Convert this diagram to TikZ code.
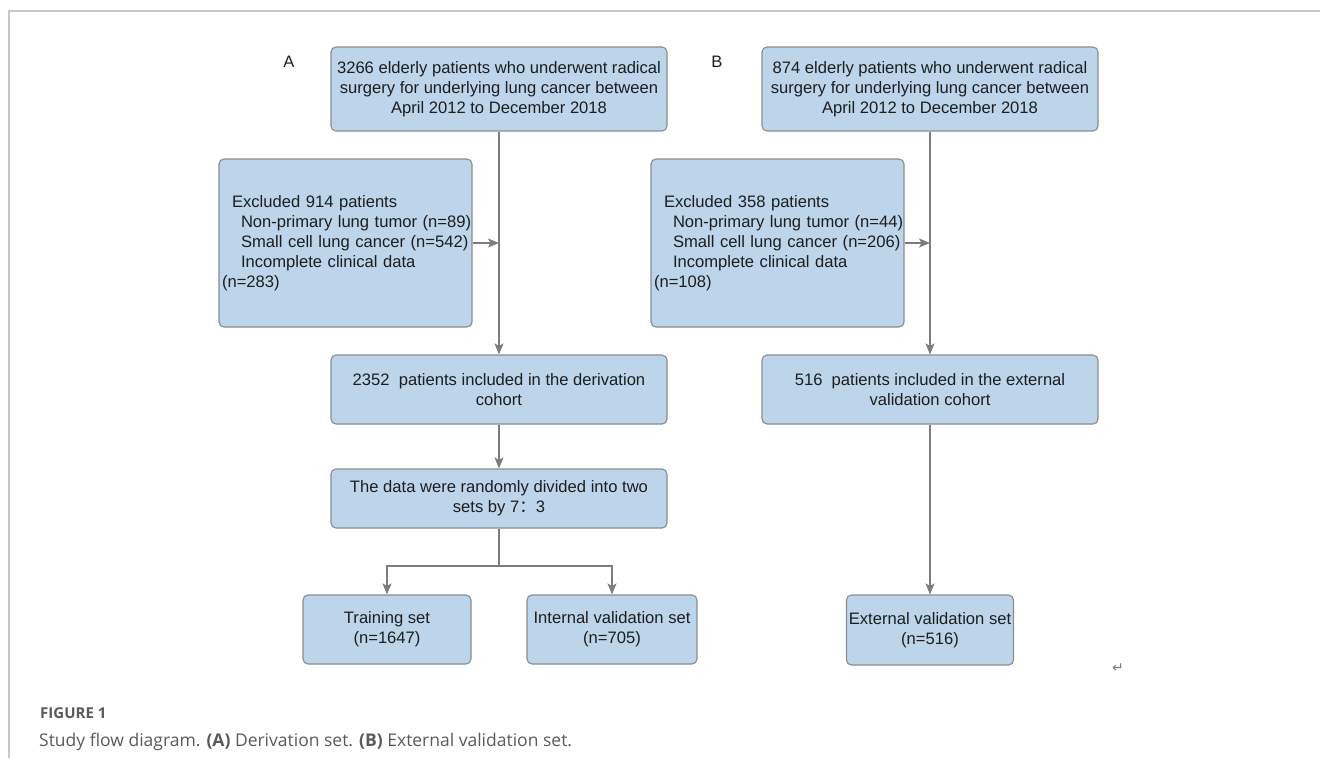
\documentclass[tikz,border=0pt]{standalone}
\usepackage{fontspec}
\setmainfont{Liberation Sans}
\newfontfamily\capfont{Open Sans}
\newfontfamily\cjk{Noto Sans CJK SC}
\newfontfamily\symfont{DejaVu Sans}
\usetikzlibrary{arrows.meta}
\definecolor{boxfill}{RGB}{188,213,234}
\definecolor{boxline}{RGB}{140,140,140}
\definecolor{conn}{RGB}{125,125,125}
\definecolor{txt}{RGB}{30,30,30}
\definecolor{frame}{RGB}{200,200,200}
\definecolor{capgray}{RGB}{90,90,90}
\begin{document}
\begin{tikzpicture}[x=1pt,y=-1pt,
  box/.style={draw=boxline, fill=boxfill, rounded corners=5pt, line width=1.1pt,
    font=\fontsize{16.6}{20}\selectfont, text=txt, align=center, inner sep=0pt},
  exbox/.style={box, align=left, text width=247pt, inner xsep=3pt,
    minimum width=253pt, minimum height=168pt},
  arr/.style={draw=conn, line width=1.4pt, -{Stealth[length=11pt,width=9pt,inset=2.5pt]}},
  ln/.style={draw=conn, line width=1.4pt},
  lab/.style={font=\fontsize{16.6}{20}\selectfont, text=txt, inner sep=0pt}]
\useasboundingbox (0,0) rectangle (1320,758);
% frame
\draw[frame, line width=1.2pt] (1320,11) -- (9,11) -- (9,758);
% labels
\node[lab] (labA) at (289,62) {A};
\node[lab] (labB) at (717,62) {B};
% column A
\node[box, minimum width=336pt, minimum height=84pt] (topA) at (499,89)
  {3266 elderly patients who underwent radical\\surgery for underlying lung cancer between\\April 2012 to December 2018};
\node[exbox] (exA) at (345.5,243)
  {\hspace*{10pt}\mbox{Excluded 914 patients}\\\hspace*{19pt}\mbox{Non-primary lung tumor (n=89)}\\\hspace*{19pt}\mbox{Small cell lung cancer (n=542)}\\\hspace*{19pt}\mbox{Incomplete clinical data}\\(n=283)};
\node[box, minimum width=336pt, minimum height=69pt] (derA) at (499,389.5)
  {2352\ \ patients included in the derivation\\cohort};
\node[box, minimum width=336pt, minimum height=59pt] (rand) at (499,498.5)
  {The data were randomly divided into two\\sets by 7{\cjk ：}3};
\node[box, minimum width=168pt, minimum height=69pt] (train) at (387,629.5)
  {Training set\\(n=1647)};
\node[box, minimum width=170pt, minimum height=69pt] (intv) at (612,629.5)
  {Internal validation set\\(n=705)};
% column B
\node[box, minimum width=336pt, minimum height=84pt] (topB) at (930,89)
  {874 elderly patients who underwent radical\\surgery for underlying lung cancer between\\April 2012 to December 2018};
\node[exbox] (exB) at (777.5,243)
  {\hspace*{10pt}\mbox{Excluded 358 patients}\\\hspace*{19pt}\mbox{Non-primary lung tumor (n=44)}\\\hspace*{19pt}\mbox{Small cell lung cancer (n=206)}\\\hspace*{19pt}\mbox{Incomplete clinical data}\\(n=108)};
\node[box, minimum width=336pt, minimum height=69pt] (derB) at (930,389.5)
  {516\ \ patients included in the external\\validation cohort};
\node[box, minimum width=167pt, minimum height=70pt] (extv) at (930,630)
  {External validation set\\(n=516)};
% connectors
\draw[arr] (topA.south) -- (derA.north);
\draw[arr] (exA.east) -- (exA.east -| topA.south);
\draw[arr] (derA.south) -- (rand.north);
\coordinate (split) at (499,566);
\draw[ln] (rand.south) -- (split);
\draw[arr] (split) -| (train.north);
\draw[arr] (split) -| (intv.north);
\draw[arr] (topB.south) -- (derB.north);
\draw[arr] (exB.east) -- (exB.east -| topB.south);
\draw[arr] (derB.south) -- (extv.north);
% return mark
\node[text=conn, font=\symfont\fontsize{14}{14}\selectfont, inner sep=0pt] (ret) at (1118,668) {↵};
% caption
\node[anchor=base west, inner sep=0pt, text=capgray, font=\capfont\bfseries\fontsize{15}{17}\selectfont] (figno) at (40,718) {FIGURE 1};
\node[anchor=base west, inner sep=0pt, text=capgray, font=\capfont\fontsize{17.5}{21}\selectfont] (cap) at (39,746)
  {Study flow diagram. \textbf{(A)} Derivation set. \textbf{(B)} External validation set.};
\end{tikzpicture}
\end{document}
